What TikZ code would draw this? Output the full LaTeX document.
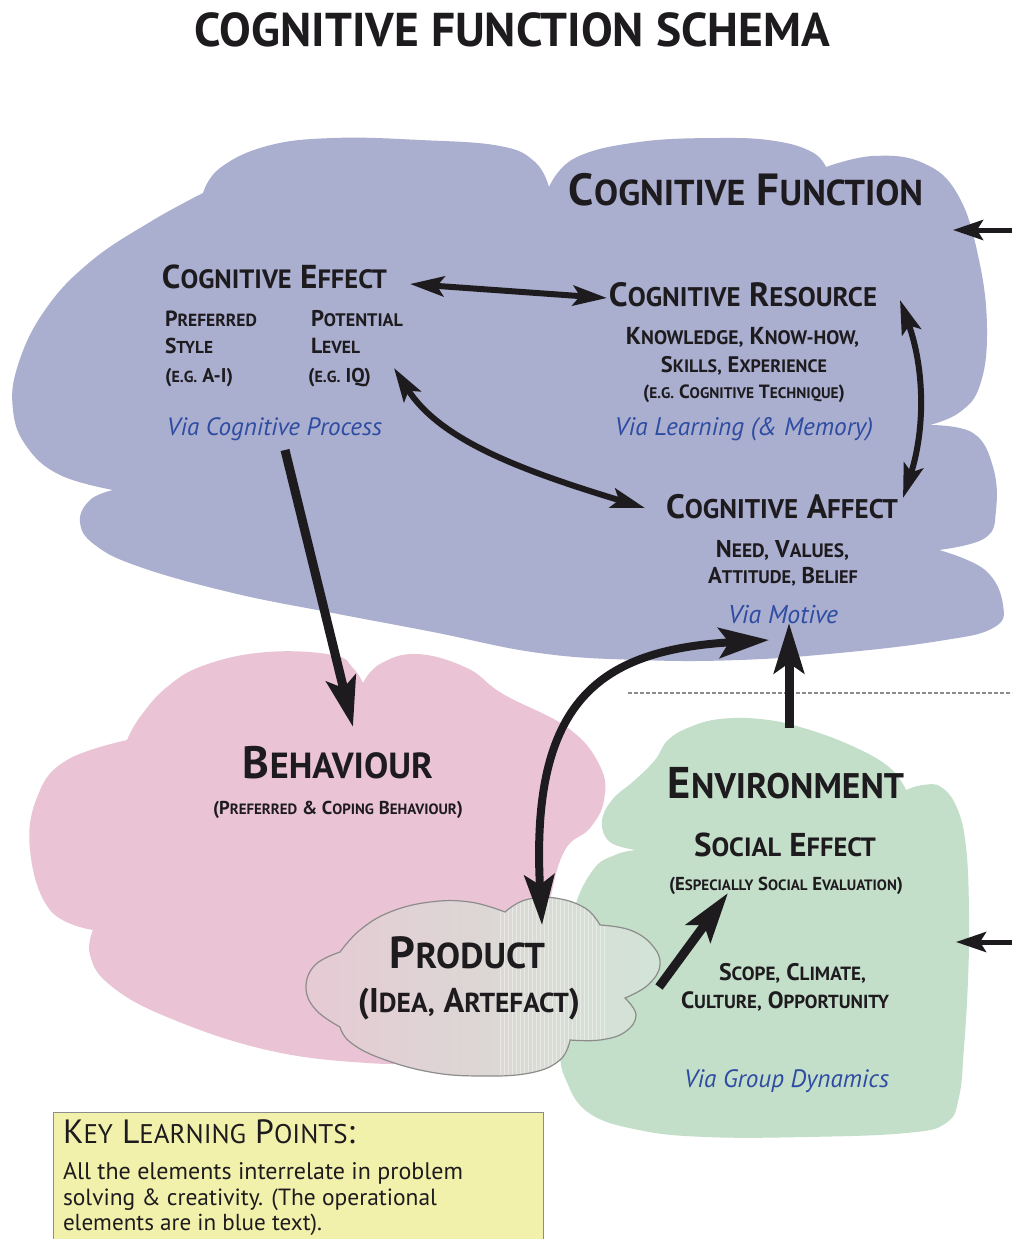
\documentclass[tikz,border=0pt]{standalone}
\usepackage{fontspec}
\setmainfont{PT Sans}
\usepackage{graphicx}
\usetikzlibrary{arrows.meta}
\definecolor{cfblue}{HTML}{AAAECF}
\definecolor{cfpink}{HTML}{EAC4D4}
\definecolor{cfgreen}{HTML}{C3DEC9}
\definecolor{cfyellow}{HTML}{F2F1AB}
\definecolor{cftext}{HTML}{1E1B1F}
\definecolor{cfvia}{HTML}{2D4CA2}
\definecolor{cfprodL}{HTML}{E6CAD4}
\definecolor{cfprodR}{HTML}{D2E4D6}
\newcommand\sk[1]{\scalebox{0.8}{#1}}
\newcommand\fitw[2]{\resizebox{#1}{!}{#2}}
\tikzset{
  lbl/.style={inner sep=0pt, outer sep=0pt, text=cftext, font=\bfseries},
  lblc/.style={lbl, anchor=base},
  lbll/.style={lbl, anchor=base west},
  keytxt/.style={inner sep=0pt, outer sep=0pt, text=cftext, font=\normalfont, anchor=base west},
  via/.style={inner sep=0pt, outer sep=0pt, anchor=base, text=cfvia, font=\itshape},
  darrS/.style={line width=6pt, draw=cftext,
    {Stealth[length=34pt,width=20pt,inset=7pt]}-{Stealth[length=34pt,width=20pt,inset=7pt]}},
  arrL/.style={line width=9pt, draw=cftext, -{Stealth[length=50pt,width=30pt,inset=10pt]}},
  darrL/.style={line width=8pt, draw=cftext,
    {Stealth[length=50pt,width=30pt,inset=10pt]}-{Stealth[length=50pt,width=30pt,inset=10pt]}},
  arrIn/.style={line width=5pt, draw=cftext, -{Stealth[length=30pt,width=20pt,inset=6pt]}},
  keybox/.style={draw=black!45, line width=1pt, fill=cfyellow, anchor=north west,
    minimum width=490pt, minimum height=150pt, inner sep=0pt},
  dashline/.style={draw=black!45, line width=1.2pt, dash pattern=on 4pt off 2pt}
}
\begin{document}
\begin{tikzpicture}[x=1pt,y=-1pt]
\useasboundingbox (0,0) rectangle (1012,1239);
\fill[white] (0,0) rectangle (1012,1239);

% ---------- blue cloud: cognitive function ----------
\fill[cfblue]
  plot[smooth, tension=0.7] coordinates {(203,193) (220,168) (267,146) (333,138) (420,140) (500,146) (535,162) (549,187)}
  -- plot[smooth, tension=0.7] coordinates {(549,187) (575,158) (639,142) (720,138) (775,141) (812,152) (826,167)}
  -- plot[smooth, tension=0.7] coordinates {(826,167) (873,156) (923,163) (958,195) (979,260) (987,330) (980,385) (960,412) (930,425)}
  -- plot[smooth, tension=0.7] coordinates {(930,425) (973,433) (993,467) (996,510) (985,538) (939,550)}
  -- plot[smooth, tension=0.7] coordinates {(939,550) (985,570) (1003,605) (993,628) (939,641) (839,653) (739,660) (639,660) (539,653) (433,632) (333,613) (233,593) (140,567) (95,545) (80,522) (90,500) (113,490)}
  -- plot[smooth, tension=0.7] coordinates {(113,490) (60,475) (27,447) (13,410) (18,365) (45,310) (90,262) (150,222) (203,193)}
  -- cycle;

% ---------- pink cloud: behaviour ----------
\fill[cfpink]
  plot[smooth, tension=0.7] coordinates {(127,740) (140,717) (167,687) (205,665) (267,652) (333,655) (353,668) (363,683)}
  -- plot[smooth, tension=0.7] coordinates {(363,683) (380,664) (417,654) (467,668) (503,694) (568,728) (600,766) (604,800) (590,828) (565,850) (550,900) (540,960) (520,1030) (480,1058) (433,1062) (367,1063) (267,1050) (167,1017) (110,985) (90,955) (93,930)}
  -- plot[smooth, tension=0.7] coordinates {(93,930) (50,910) (30,850) (38,795) (67,760) (127,740)}
  -- cycle;

% ---------- green cloud: environment ----------
\fill[cfgreen]
  plot[smooth, tension=0.7] coordinates {(636,850) (610,842) (602,822) (612,800) (635,780) (655,760) (668,740) (690,727) (720,719) (760,719) (800,727) (850,745) (889,767) (906,790)}
  -- plot[smooth, tension=0.7] coordinates {(906,790) (923,785) (941,787) (957,808) (966,847) (969,913) (968,980) (964,1047) (959,1097) (946,1123) (906,1133) (806,1137) (706,1137) (639,1130) (589,1113) (566,1080) (560,1047) (562,980) (573,913) (593,870) (615,855) (636,850)}
  -- cycle;

% ---------- product cloud ----------
\def\prodpath{
  plot[smooth, tension=0.7] coordinates {(340,1027) (316,1010) (306,988) (315,965) (340,952)}
  -- plot[smooth, tension=0.7] coordinates {(340,952) (360,930) (390,912) (430,902) (470,902) (505,912)}
  -- plot[smooth, tension=0.7] coordinates {(505,912) (525,900) (555,898) (585,908) (600,925)}
  -- plot[smooth, tension=0.7] coordinates {(600,925) (630,930) (652,945) (660,965) (648,985) (625,998)}
  -- plot[smooth, tension=0.7] coordinates {(625,998) (636,1015) (625,1032) (600,1040) (570,1040)}
  -- plot[smooth, tension=0.7] coordinates {(570,1040) (560,1060) (530,1073) (480,1076) (430,1072) (380,1058) (350,1042) (340,1027)}
  -- cycle}
\shade[left color=cfprodL, right color=cfprodR, middle color=cfprodL!50!cfprodR] \prodpath;
\begin{scope}
  \clip \prodpath;
  \foreach \sx in {500,504,...,604} {
    \draw[white, opacity=0.4, line width=1pt] (\sx,880) -- (\sx,1090);
  }
\end{scope}
\draw[black!45, line width=1.2pt] \prodpath;

% ---------- dashed separator ----------
\draw[dashline] (628,693) -- (1012,693);

% ---------- key learning points box ----------
\node[keybox] (key) at (53,1112) {};
\node[keytxt] (k0) at (63,1143) {\fitw{292pt}{K\sk{EY} L\sk{EARNING} P\sk{OINTS}:}};
\node[keytxt] (k1) at (63,1179) {\fitw{400pt}{All the elements interrelate in problem}};
\node[keytxt] (k2) at (63,1205) {\fitw{374pt}{solving \& creativity. (The operational}};
\node[keytxt] (k3) at (63,1230) {\fitw{259pt}{elements are in blue text).}};

% ---------- texts ----------
\node[lblc] (title) at (512.5,47) {\fitw{635pt}{COGNITIVE FUNCTION SCHEMA}};
\node[lblc] (cf) at (746,205) {\fitw{354pt}{C\sk{OGNITIVE} F\sk{UNCTION}}};

\node[lblc] (ce) at (274.5,288) {\fitw{225pt}{C\sk{OGNITIVE} E\sk{FFECT}}};
\node[lbll] (ps1) at (165,326) {\fitw{92pt}{P\sk{REFERRED}}};
\node[lbll] (ps2) at (165,353) {\fitw{48pt}{S\sk{TYLE}}};
\node[lbll] (ps3) at (165,382) {\fitw{68pt}{(\sk{E.G.} A-I)}};
\node[lbll] (pl1) at (311,326) {\fitw{92pt}{P\sk{OTENTIAL}}};
\node[lbll] (pl2) at (311,353) {\fitw{49pt}{L\sk{EVEL}}};
\node[lbll] (pl3) at (308,382) {\fitw{63pt}{(\sk{E.G.} IQ)}};
\node[via] (vcp) at (274.5,435) {\fitw{215pt}{Via Cognitive Process}};

\node[lblc] (cr) at (743,306) {\fitw{268pt}{C\sk{OGNITIVE} R\sk{ESOURCE}}};
\node[lblc] (cr1) at (742.5,344) {\fitw{233pt}{K\sk{NOWLEDGE,} K\sk{NOW-HOW,}}};
\node[lblc] (cr2) at (744,372) {\fitw{166pt}{S\sk{KILLS,} E\sk{XPERIENCE}}};
\node[lblc] (cr3) at (744,398) {\fitw{202pt}{(\sk{E.G.} C\sk{OGNITIVE} T\sk{ECHNIQUE})}};
\node[via] (vlm) at (744,435) {\fitw{258pt}{Via Learning (\& Memory)}};

\node[lblc] (ca) at (782,518) {\fitw{232pt}{C\sk{OGNITIVE} A\sk{FFECT}}};
\node[lblc] (ca1) at (782.5,557) {\fitw{133pt}{N\sk{EED,} V\sk{ALUES,}}};
\node[lblc] (ca2) at (783,583) {\fitw{150pt}{A\sk{TTITUDE,} B\sk{ELIEF}}};
\node[via] (vm) at (783,623) {\fitw{110pt}{Via Motive}};

\node[lblc] (beh) at (338,778) {\fitw{190pt}{B\sk{EHAVIOUR}}};
\node[lblc] (beh1) at (338,814) {\fitw{250pt}{(P\sk{REFERRED} \& C\sk{OPING} B\sk{EHAVIOUR})}};

\node[lblc] (env) at (786,798) {\fitw{236pt}{E\sk{NVIRONMENT}}};
\node[lblc] (se) at (785,856) {\fitw{182pt}{S\sk{OCIAL} E\sk{FFECT}}};
\node[lblc] (se1) at (786,890) {\fitw{234pt}{(E\sk{SPECIALLY} S\sk{OCIAL} E\sk{VALUATION})}};
\node[lblc] (sc1) at (792.5,980) {\fitw{147pt}{S\sk{COPE,} C\sk{LIMATE,}}};
\node[lblc] (sc2) at (785,1008) {\fitw{208pt}{C\sk{ULTURE,} O\sk{PPORTUNITY}}};
\node[via] (vgd) at (786.5,1087) {\fitw{205pt}{Via Group Dynamics}};

\node[lblc] (prod) at (467.5,968) {\fitw{155pt}{P\sk{RODUCT}}};
\node[lblc] (prod1) at (469,1012) {\fitw{222pt}{(I\sk{DEA,} A\sk{RTEFACT})}};

% ---------- connector end points ----------
\coordinate (ceR) at (410,284);
\coordinate (crL) at (607,298);
\coordinate (iqA) at (394,368);
\coordinate (caL) at (645,508);
\coordinate (crR) at (900,300);
\coordinate (caR) at (903,498);
\coordinate (vcpS) at (285,450);
\coordinate (behT) at (353,727);
\coordinate (prodT) at (542,925);
\coordinate (vmL) at (769,640);
\coordinate (envT) at (789,728);
\coordinate (vmB) at (789,623);
\coordinate (prodR) at (659,987);
\coordinate (seB) at (728,893);
\coordinate (inTop) at (1012,230);
\coordinate (cfR) at (953,230);
\coordinate (inBot) at (1012,942);
\coordinate (envR) at (956,942);

% ---------- connectors ----------
\draw[darrS] (ceR) -- (crL);
\draw[darrS] (iqA) .. controls (440,440) and (520,470) .. (caL);
\draw[darrS] (crR) .. controls (925,370) and (925,430) .. (caR);
\draw[arrL] (vcpS) -- (behT);
\draw[darrL] (prodT) .. controls (530,700) and (600,650) .. (vmL);
\draw[arrL] (envT) -- (vmB);
\draw[arrL] (prodR) -- (seB);
\draw[arrIn] (inTop) -- (cfR);
\draw[arrIn] (inBot) -- (envR);
\end{tikzpicture}
\end{document}
